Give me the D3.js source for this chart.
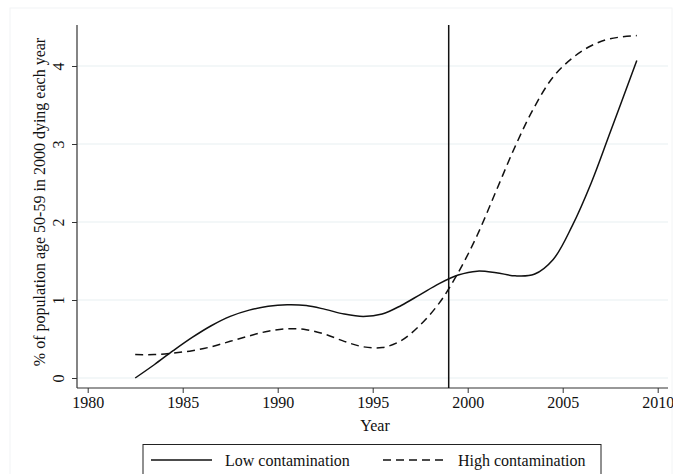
<!DOCTYPE html>
<html><head><meta charset="utf-8">
<script src="https://cdn.jsdelivr.net/npm/d3@7/dist/d3.min.js"></script>
<style>body{margin:0;background:#fff}svg text{font-family:"Liberation Serif","DejaVu Serif",serif;fill:#111}</style>
</head><body><svg id="c" width="673" height="474"></svg>
<script>
const years = [1982.5,1983.5,1984.5,1985.5,1986.5,1987.5,1988.5,1989.5,1990.5,1991.5,1992.5,1993.5,1994.5,1995.5,1996.5,1997.5,1998.5,1999.5,2000.5,2001.5,2002.5,2003.5,2004.5,2005.5,2006.5,2007.5,2008.9];
const lowValues = [0.00,0.17,0.35,0.52,0.67,0.79,0.87,0.92,0.94,0.93,0.88,0.82,0.79,0.82,0.93,1.07,1.21,1.32,1.37,1.35,1.31,1.33,1.52,1.95,2.50,3.15,4.07];
const highValues = [0.30,0.30,0.32,0.35,0.40,0.47,0.54,0.60,0.63,0.62,0.56,0.47,0.40,0.39,0.48,0.68,0.96,1.35,1.83,2.40,2.97,3.47,3.86,4.10,4.26,4.35,4.39];
const xTicks = [1980,1985,1990,1995,2000,2005,2010];
const yTicks = [0,1,2,3,4];
const refYear = 1999;
const seriesNames = ["Low contamination","High contamination"];

const svg = d3.select("#c");
const x = d3.scaleLinear().domain([1980,2010]).range([87.7,657.7]);
const y = d3.scaleLinear().domain([0,4]).range([378,66]);
const pLeft=77, pRight=668, pTop=25, pBottom=388;

// faint outer frame
svg.append("rect").attr("x",10).attr("y",8).attr("width",662).attr("height",470)
  .attr("fill","none").attr("stroke","#f2f4f5");

// gridlines
svg.append("g").selectAll("line").data(yTicks).join("line")
  .attr("x1",pLeft).attr("x2",pRight).attr("y1",d=>y(d)).attr("y2",d=>y(d))
  .attr("stroke","#e8f0f2").attr("stroke-width",1.2);

// y axis
const ya = svg.append("g").attr("transform",`translate(${pLeft},0)`)
  .call(d3.axisLeft(y).tickValues(yTicks).tickSize(5).tickPadding(0).tickFormat(d3.format("d")));
ya.select(".domain").attr("d",`M0,${pTop}V${pBottom}`).attr("stroke","#333").attr("stroke-width",1.2);
ya.selectAll(".tick line").attr("stroke","#333");
ya.selectAll(".tick text").attr("transform","rotate(-90)").attr("x",0).attr("y",-13)
  .attr("text-anchor","middle").attr("dy","0").style("font-size","16px");

// x axis
const xa = svg.append("g").attr("transform",`translate(0,${pBottom})`)
  .call(d3.axisBottom(x).tickValues(xTicks).tickSize(5).tickPadding(4).tickFormat(d3.format("d")));
xa.select(".domain").attr("d",`M${pLeft},0H${pRight}`).attr("stroke","#333").attr("stroke-width",1.2);
xa.selectAll(".tick line").attr("stroke","#333");
xa.selectAll(".tick text").style("font-size","16px");

// labels
svg.append("text").attr("x",375).attr("y",431).attr("text-anchor","middle").style("font-size","16px").text("Year");
svg.append("text").attr("transform","translate(45,202) rotate(-90)").attr("text-anchor","middle")
  .style("font-size","16px").text("% of population age 50-59 in 2000 dying each year");

// reference line
svg.append("line").attr("x1",x(refYear)).attr("x2",x(refYear)).attr("y1",pTop).attr("y2",pBottom)
  .attr("stroke","#111").attr("stroke-width",1.5);

const line = d3.line().x((d,i)=>x(years[i])).y(d=>y(d)).curve(d3.curveCatmullRom.alpha(0.5));
svg.append("path").attr("d",line(lowValues)).attr("fill","none").attr("stroke","#111").attr("stroke-width",1.5);
svg.append("path").attr("d",line(highValues)).attr("fill","none").attr("stroke","#111").attr("stroke-width",1.5)
  .attr("stroke-dasharray","8,5");

// legend
svg.append("rect").attr("x",143).attr("y",444.5).attr("width",458).attr("height",40)
  .attr("fill","#fff").attr("stroke","#222").attr("stroke-width",1);
svg.append("line").attr("x1",151).attr("x2",212).attr("y1",460).attr("y2",460).attr("stroke","#111").attr("stroke-width",1.5);
svg.append("text").attr("x",225).attr("y",466).style("font-size","16px").text(seriesNames[0]);
svg.append("line").attr("x1",383).attr("x2",447).attr("y1",460).attr("y2",460).attr("stroke","#111").attr("stroke-width",1.5)
  .attr("stroke-dasharray","8,5");
svg.append("text").attr("x",458).attr("y",466).style("font-size","16px").text(seriesNames[1]);
</script></body></html>
